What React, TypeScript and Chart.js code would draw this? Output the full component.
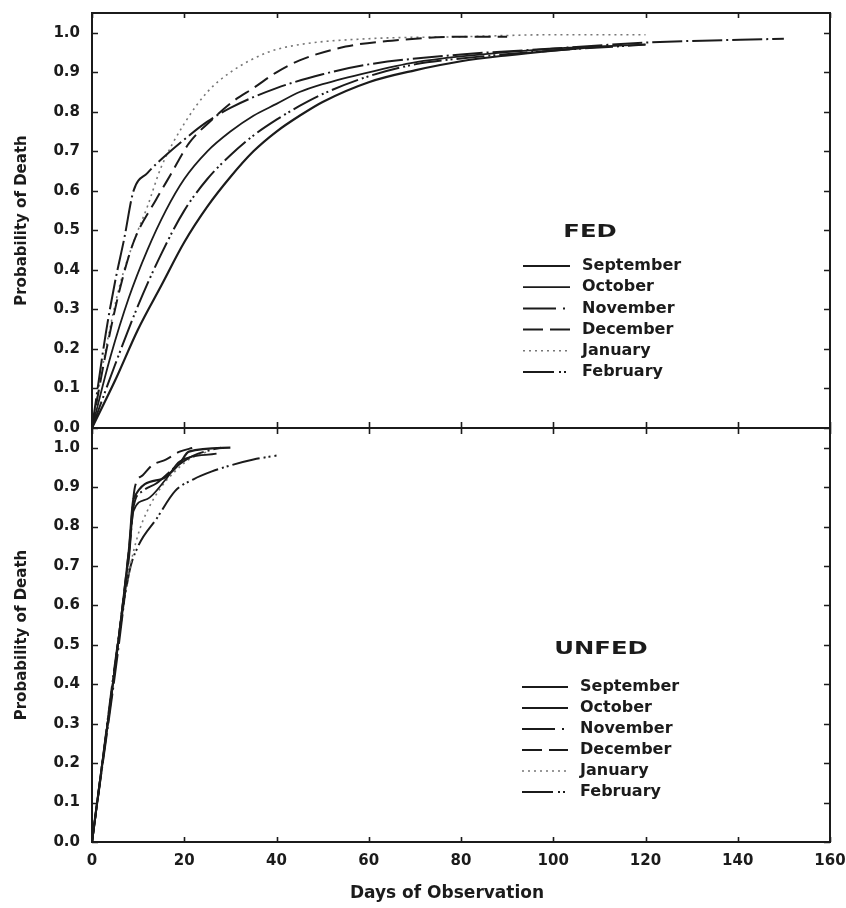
import React, { useEffect, useRef } from 'react';
import { Chart, registerables } from 'chart.js';

Chart.register(...registerables);

// ---------- data ----------
const months = ['September', 'October', 'November', 'December', 'January', 'February'];
const xTicks = [0, 20, 40, 60, 80, 100, 120, 140, 160];
const yTicks = [0, 0.1, 0.2, 0.3, 0.4, 0.5, 0.6, 0.7, 0.8, 0.9, 1.0];
const xTitle = 'Days of Observation';
const yTitle = 'Probability of Death';
const fedTitle = 'FED';
const unfedTitle = 'UNFED';

// FED: [day, probability]
const fedSeptember = [[0, 0], [5, 0.12], [10, 0.25], [15, 0.36], [20, 0.47], [25, 0.56], [30, 0.635], [35, 0.7], [40, 0.75], [45, 0.79], [50, 0.825], [60, 0.875], [70, 0.905], [80, 0.928], [90, 0.943], [100, 0.955], [110, 0.965]];
const fedOctober = [[0, 0], [4, 0.18], [8, 0.33], [12, 0.45], [16, 0.55], [20, 0.63], [25, 0.7], [30, 0.75], [35, 0.79], [40, 0.82], [45, 0.85], [50, 0.87], [60, 0.9], [70, 0.925], [80, 0.94], [100, 0.96], [120, 0.97]];
const fedNovember = [[0, 0], [3, 0.24], [5, 0.37], [7, 0.48], [9, 0.6], [12, 0.645], [16, 0.69], [20, 0.73], [25, 0.775], [30, 0.81], [40, 0.86], [50, 0.895], [60, 0.92], [80, 0.945], [100, 0.96], [120, 0.975], [150, 0.985]];
const fedDecember = [[0, 0], [3, 0.19], [6, 0.35], [9, 0.47], [14, 0.58], [17, 0.64], [21, 0.72], [26, 0.78], [31, 0.83], [35, 0.86], [40, 0.9], [45, 0.93], [55, 0.965], [65, 0.98], [80, 0.99], [90, 0.99]];
const fedJanuary = [[0, 0], [3, 0.2], [6, 0.36], [9, 0.47], [12, 0.56], [15, 0.66], [20, 0.77], [25, 0.85], [30, 0.9], [38, 0.95], [45, 0.97], [60, 0.985], [80, 0.99], [100, 0.995], [120, 0.995]];
const fedFebruary = [[0, 0], [5, 0.16], [10, 0.31], [15, 0.44], [20, 0.55], [25, 0.63], [30, 0.69], [35, 0.74], [40, 0.78], [45, 0.815], [50, 0.845], [60, 0.89], [70, 0.92], [80, 0.935], [100, 0.955], [120, 0.97]];

// UNFED: [day, probability]
const unfedSeptember = [[0, 0], [8, 0.74], [9, 0.87], [15, 0.92], [19, 0.96], [21, 0.99], [30, 1.0]];
const unfedOctober = [[0, 0], [8, 0.73], [9, 0.84], [12, 0.87], [16, 0.92], [19, 0.965], [27, 0.985]];
const unfedNovember = [[0, 0], [8, 0.72], [9, 0.85], [11, 0.89], [14, 0.91], [18, 0.95], [22, 0.98], [26, 0.995], [28, 1.0]];
const unfedDecember = [[0, 0], [8, 0.74], [9.3, 0.9], [11, 0.93], [13, 0.955], [16, 0.97], [19, 0.99], [22, 1.0]];
const unfedJanuary = [[0, 0], [8, 0.68], [10, 0.78], [12, 0.84], [15, 0.9], [18, 0.94], [21, 0.97], [25, 0.99]];
const unfedFebruary = [[0, 0], [8, 0.68], [10, 0.75], [14, 0.82], [18, 0.89], [22, 0.92], [26, 0.94], [30, 0.955], [35, 0.97], [40, 0.98]];

const fedSeries = [fedSeptember, fedOctober, fedNovember, fedDecember, fedJanuary, fedFebruary];
const unfedSeries = [unfedSeptember, unfedOctober, unfedNovember, unfedDecember, unfedJanuary, unfedFebruary];

// ---------- styles ----------
const FONT = '"DejaVu Sans", "Liberation Sans", sans-serif';
const INK = '#1b1b1b';
const lineStyles = [
  { dash: [], legendDash: [], width: 2.2, color: INK },
  { dash: [], legendDash: [], width: 1.8, color: INK },
  { dash: [30, 4, 2, 4], legendDash: [33, 7, 2, 30], width: 2, color: INK },
  { dash: [16, 7], legendDash: [20, 7], width: 2, color: INK },
  { dash: [2, 4], legendDash: [2, 4], width: 1.6, color: '#777' },
  { dash: [28, 4, 2, 3, 2, 4], legendDash: [31, 5, 2, 3, 2, 30], width: 2, color: INK },
];

const W = 846;
const TOP_H = 440;
const BOT_TOP = 420;
const BOT_H = 908 - BOT_TOP;

type Decor = {
  title: string;
  titleX: number;
  titleY: number;
  rowY0: number;
  rowStep: number;
  lineX1: number;
  lineX2: number;
  textX: number;
  topTick: number;
  bottomTick: number;
  axisTitle?: string;
  axisTitleX?: number;
  axisTitleY?: number;
};

const decorPlugin = {
  id: 'panelDecor',
  afterDraw(chart: any, _args: any, opts: Decor) {
    const { ctx, chartArea: a, scales } = chart;
    const xs = scales.x;
    const ys = scales.y;
    ctx.save();
    ctx.setLineDash([]);
    ctx.strokeStyle = INK;
    ctx.lineWidth = 2;
    ctx.strokeRect(a.left, a.top, a.right - a.left, a.bottom - a.top);
    ctx.lineWidth = 1.6;
    ctx.beginPath();
    for (const v of yTicks) {
      const py = Math.round(ys.getPixelForValue(v)) + 0.5;
      ctx.moveTo(a.left, py);
      ctx.lineTo(a.left + 6, py);
      ctx.moveTo(a.right, py);
      ctx.lineTo(a.right - 6, py);
    }
    for (const v of xTicks) {
      const px = Math.round(xs.getPixelForValue(v)) + 0.5;
      ctx.moveTo(px, a.top);
      ctx.lineTo(px, a.top + opts.topTick);
      ctx.moveTo(px, a.bottom);
      ctx.lineTo(px, a.bottom - opts.bottomTick);
    }
    ctx.stroke();

    // legend title (wide lettering)
    ctx.save();
    ctx.translate(opts.titleX, opts.titleY);
    ctx.scale(1.35, 1);
    ctx.fillStyle = INK;
    ctx.font = `bold 18px ${FONT}`;
    ctx.textAlign = 'center';
    ctx.textBaseline = 'middle';
    ctx.fillText(opts.title, 0, 0);
    ctx.restore();

    // legend rows
    months.forEach((m, i) => {
      const y = opts.rowY0 + i * opts.rowStep;
      const st = lineStyles[i];
      ctx.beginPath();
      ctx.setLineDash(st.legendDash);
      ctx.strokeStyle = st.color;
      ctx.lineWidth = st.width;
      ctx.moveTo(opts.lineX1, y);
      ctx.lineTo(opts.lineX2, y);
      ctx.stroke();
      ctx.setLineDash([]);
      ctx.fillStyle = INK;
      ctx.font = `bold 16px ${FONT}`;
      ctx.textAlign = 'left';
      ctx.textBaseline = 'middle';
      ctx.fillText(m, opts.textX, y);
    });

    if (opts.axisTitle) {
      ctx.fillStyle = INK;
      ctx.font = `bold 17px ${FONT}`;
      ctx.textAlign = 'center';
      ctx.textBaseline = 'middle';
      ctx.fillText(opts.axisTitle, opts.axisTitleX, opts.axisTitleY);
    }
    ctx.restore();
  },
};

function toPoints(pairs: number[][]) {
  return pairs.map(([x, y]) => ({ x, y }));
}

function makeConfig(series: number[][][], isTop: boolean, decor: Decor): any {
  return {
    type: 'line',
    data: {
      datasets: series.map((pairs, i) => ({
        label: months[i],
        data: toPoints(pairs),
        borderColor: lineStyles[i].color,
        borderWidth: lineStyles[i].width,
        borderDash: lineStyles[i].dash,
        borderCapStyle: 'butt',
        pointRadius: 0,
        fill: false,
        cubicInterpolationMode: 'monotone',
      })),
    },
    options: {
      responsive: false,
      animation: false,
      events: [],
      layout: {
        padding: isTop
          ? { top: 13, right: 16, left: 0, bottom: 0 }
          : { top: 8, right: 16, left: 0, bottom: 0 },
      },
      plugins: {
        legend: { display: false },
        tooltip: { enabled: false },
        panelDecor: decor,
      },
      scales: {
        x: {
          type: 'linear',
          min: 0,
          max: 160,
          grid: { display: false, drawTicks: false },
          border: { display: false },
          afterBuildTicks: (s: any) => {
            s.ticks = xTicks.map((v) => ({ value: v }));
          },
          ticks: {
            display: !isTop,
            color: INK,
            font: { family: FONT, size: 15, weight: 'bold' },
            padding: 10,
            maxRotation: 0,
            autoSkip: false,
          },
          afterFit: (s: any) => {
            s.height = isTop ? TOP_H - 428 : BOT_H - (842 - BOT_TOP);
            s.paddingLeft = 0;
            s.paddingRight = 0;
            s.paddingTop = 0;
            s.paddingBottom = 0;
          },
        },
        y: {
          type: 'linear',
          min: 0,
          max: 1.05,
          grid: { display: false, drawTicks: false },
          border: { display: false },
          afterBuildTicks: (s: any) => {
            s.ticks = yTicks.map((v) => ({ value: v }));
          },
          ticks: {
            color: INK,
            font: { family: FONT, size: 15, weight: 'bold' },
            padding: 12,
            autoSkip: false,
            callback: (v: any) => Number(v).toFixed(1),
          },
          title: {
            display: true,
            text: yTitle,
            color: INK,
            font: { family: FONT, size: 15, weight: 'bold' },
            padding: { top: 13, bottom: 0 },
          },
          afterFit: (s: any) => {
            s.width = 92;
            s.paddingLeft = 0;
            s.paddingRight = 0;
            s.paddingTop = 0;
            s.paddingBottom = 0;
          },
        },
      },
    },
    plugins: [decorPlugin],
  };
}

export default function App() {
  const topRef = useRef<HTMLCanvasElement>(null);
  const botRef = useRef<HTMLCanvasElement>(null);

  useEffect(() => {
    const top = new Chart(
      topRef.current as HTMLCanvasElement,
      makeConfig(fedSeries, true, {
        title: fedTitle,
        titleX: 590,
        titleY: 232,
        rowY0: 266,
        rowStep: 21.2,
        lineX1: 523,
        lineX2: 570,
        textX: 582,
        topTick: 5,
        bottomTick: 6,
      })
    );
    const bottom = new Chart(
      botRef.current as HTMLCanvasElement,
      makeConfig(unfedSeries, false, {
        title: unfedTitle,
        titleX: 601,
        titleY: 649 - BOT_TOP,
        rowY0: 687 - BOT_TOP,
        rowStep: 21,
        lineX1: 522,
        lineX2: 568,
        textX: 580,
        topTick: 6,
        bottomTick: 5,
        axisTitle: xTitle,
        axisTitleX: 447,
        axisTitleY: 894 - BOT_TOP,
      })
    );
    return () => {
      top.destroy();
      bottom.destroy();
    };
  }, []);

  return (
    <div style={{ position: 'absolute', left: 0, top: 0, width: W, height: 908, background: '#fff' }}>
      <canvas
        ref={topRef}
        width={W}
        height={TOP_H}
        style={{ position: 'absolute', left: 0, top: 0, width: W, height: TOP_H }}
      />
      <canvas
        ref={botRef}
        width={W}
        height={BOT_H}
        style={{ position: 'absolute', left: 0, top: BOT_TOP, width: W, height: BOT_H }}
      />
    </div>
  );
}
